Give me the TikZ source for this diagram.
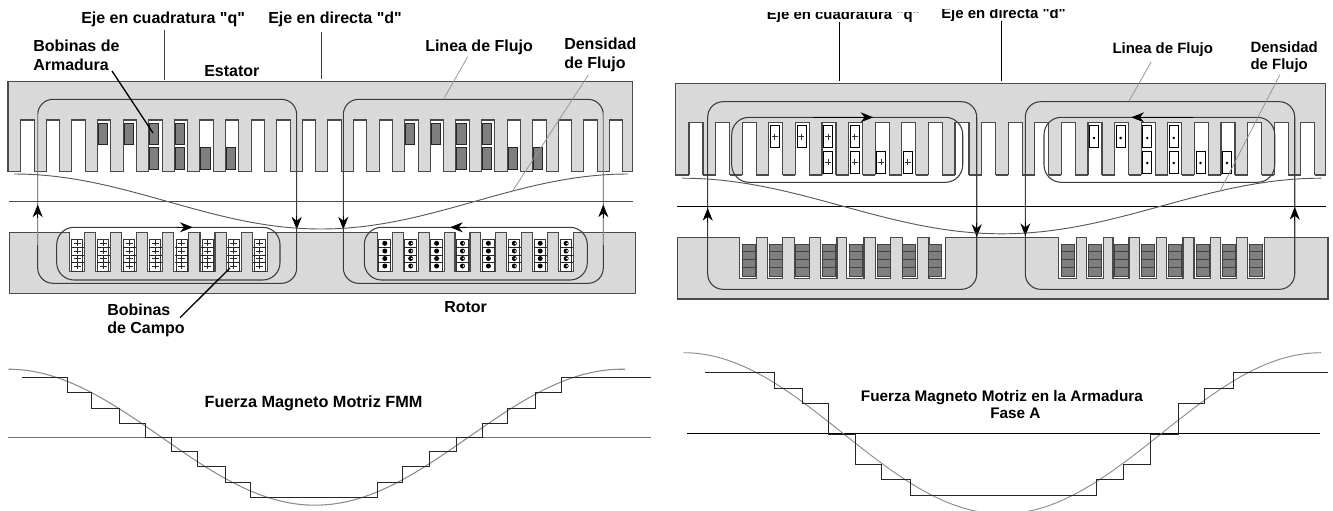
\documentclass[tikz,border=0pt]{standalone}
\usepackage{fontspec}
\setmainfont[Ligatures=TeXOff]{Liberation Sans}
\usetikzlibrary{arrows.meta}
\definecolor{iron}{HTML}{D9D9D9}
\definecolor{edgeg}{HTML}{4A4A4A}
\definecolor{coilg}{HTML}{7F7F7F}
\definecolor{loopg}{HTML}{3C3C3C}
\definecolor{curveg}{HTML}{8A8A8A}
\tikzset{
 lab/.style={anchor=base west,inner sep=0pt,font=\fontsize{12pt}{14pt}\bfseries},
 labm/.style={anchor=base west,inner sep=0pt,font=\fontsize{12.2pt}{14pt}\bfseries},
 labr/.style={anchor=base west,inner sep=0pt,font=\fontsize{11.2pt}{13pt}\bfseries},
 labn/.style={anchor=base west,inner sep=0pt,font=\fontsize{11.5pt}{13pt}\bfseries},
 iron body/.style={fill=iron,draw=edgeg,line width=.8pt},
 slotw/.style={fill=white},
 slotl/.style={draw=edgeg,line width=.8pt},
 loopline/.style={draw=loopg,line width=.8pt,rounded corners=11.5pt},
 faded/.style={draw=curveg,line width=.9pt},
 fluxtip/.style={draw=black,line width=.8pt,-{Stealth[length=9.5pt,width=7.5pt,inset=3pt]}},
 heavylead/.style={draw=black,line width=1pt},
 thinlead/.style={draw=gray!85,line width=.55pt},
 axisline/.style={draw=black!75,line width=.7pt},
 gapline/.style={draw=black!70,line width=.75pt},
 steps/.style={draw=black!85,line width=.7pt},
 wave/.style={draw=black!45,line width=.8pt},
 coilk/.style={fill=coilg,draw=black!85,line width=.7pt},
 coilw/.style={fill=white,draw=black,line width=.6pt},
}
\begin{document}
\begin{tikzpicture}[x=.75pt,y=-.75pt]
\useasboundingbox (0,0) rectangle (1333,510);
\clip (0,0) rectangle (1333,510);
\fill[white] (0,0) rectangle (1333,510);

%% ===== left stator =====
\path[iron body] (8,81.7) rectangle (632.7,171.5);
\foreach \k in {0,...,23}{
  \pgfmathsetmacro\sx{20.7+25.6*\k}
  \fill[slotw] (\sx,120) rectangle (\sx+13.4,173);
  \draw[slotl] (\sx,171.5) -- (\sx,120) -- (\sx+13.4,120) -- (\sx+13.4,171.5);
}
\foreach \k in {3,4,5,6,15,16,17,18}{
  \pgfmathsetmacro\sx{21.7+25.6*\k}
  \path[coilk] (\sx,123) rectangle (\sx+9.2,144.5);
}
\foreach \k in {5,6,7,8,17,18,19,20}{
  \pgfmathsetmacro\sx{21.7+25.6*\k}
  \path[coilk] (\sx,147.5) rectangle (\sx+9.2,169.8);
}
%% ===== left rotor =====
\path[iron body] (9.3,232.3) rectangle (635.7,293.3);
\foreach \k in {0,...,7}{
  \pgfmathsetmacro\sx{69.5+26.1*\k}
  \fill[slotw] (\sx,231) rectangle (\sx+15,271.7);
  \draw[slotl] (\sx,232.3) -- (\sx,271.7) -- (\sx+15,271.7) -- (\sx+15,232.3);
  \draw[black!80,line width=.6pt] (\sx+2,239) rectangle (\sx+13,271);
  \foreach \yy in {247.5,255,262.7}{\draw[black!85,line width=.5pt] (\sx+1,\yy) -- (\sx+14,\yy);}
  \foreach \yy in {243.3,251,258.5,266}{
    \draw[black!85,line width=.5pt] (\sx+4,\yy) -- (\sx+11,\yy) (\sx+7.5,\yy-3) -- (\sx+7.5,\yy+3);}
}
\foreach \k in {0,...,7}{
  \pgfmathsetmacro\sx{377.3+25.9*\k}
  \pgfmathtruncatemacro\odd{mod(\k,2)}
  \fill[slotw] (\sx,231) rectangle (\sx+15,271.7);
  \draw[slotl] (\sx,232.3) -- (\sx,271.7) -- (\sx+15,271.7) -- (\sx+15,232.3);
  \draw[black!80,line width=.6pt] (\sx+1.5,239) rectangle (\sx+13,271);
  \foreach \yy in {247.5,255,262.7}{\draw[black!85,line width=.5pt] (\sx+1,\yy) -- (\sx+14,\yy);}
  \foreach \yy in {243.3,251,258.5,266}{
    \fill[black] (\sx+7.5,\yy) circle[radius=2.5];
    \ifnum\odd=1 \fill[white] (\sx+8.5,\yy) circle[radius=.9]; \fi
  }
}
%% ===== left flux lines =====
\draw[loopline] (37.7,99.3) rectangle (296.7,283.3);
\draw[loopline] (343.3,99.3) rectangle (603.3,283.3);
\draw[faded] (37.7,112) -- (37.7,245);
\draw[faded] (603.3,112) -- (603.3,245);
\draw[loopline,rounded corners=13pt] (56.7,227.3) rectangle (280,280);
\draw[loopline,rounded corners=13pt] (364.3,227.3) rectangle (587.3,280);
\coordinate (la1) at (37.7,218); \coordinate (la1t) at (37.7,204.5);
\coordinate (la2) at (296.7,216); \coordinate (la2t) at (296.7,229.5);
\coordinate (la3) at (343.3,216); \coordinate (la3t) at (343.3,229.5);
\coordinate (la4) at (603.3,218); \coordinate (la4t) at (603.3,204.5);
\coordinate (la5) at (176.7,227.3); \coordinate (la5t) at (192.7,227.3);
\coordinate (la6) at (466,227.3); \coordinate (la6t) at (450,227.3);
\foreach \p in {1,...,6}{\draw[fluxtip] (la\p) -- (la\p t);}
%% gap and density
\draw[gapline] (9,201.7) -- (632.7,201.7);
\draw[black!65,line width=.7pt,domain=14:628,samples=90,smooth] plot (\x,{201.5-27.5*cos((\x-14)/307*180)});
%% left labels
\node[lab] (qL) at (81,24) {Eje en cuadratura "q"};
\node[lab] (dL) at (268,24) {Eje en directa "d"};
\node[lab] (bobA1) at (33,51.7) {Bobinas de};
\node[lab] (bobA2) at (33,70) {Armadura};
\node[lab] (estL) at (204,76) {Estator};
\node[lab] (linL) at (425,51.7) {Linea de Flujo};
\node[lab] (denL1) at (564,49.3) {Densidad};
\node[lab] (denL2) at (564,68.3) {de Flujo};
\node[lab] (bobC1) at (107,315) {Bobinas};
\node[lab] (bobC2) at (107,333) {de Campo};
\node[lab] (rotL) at (444,312.7) {Rotor};
\coordinate (qLa) at (164.3,30); \coordinate (qLb) at (164.3,80);
\coordinate (dLa) at (321,32); \coordinate (dLb) at (321,79);
\draw[axisline] (qLa) -- (qLb);
\draw[axisline] (dLa) -- (dLb);
\coordinate (armS) at (112,71); \coordinate (armE) at (153,133);
\draw[heavylead] (armS) -- (armE);
\coordinate (camS) at (180,317.7); \coordinate (camE) at (230,268);
\draw[heavylead] (camS) -- (camE);
\coordinate (linS) at (467.7,56.7); \coordinate (linE) at (444,98.3);
\draw[thinlead] (linS) -- (linE);
\coordinate (denS) at (588.3,75); \coordinate (denE) at (511.7,192.3);
\draw[thinlead] (denS) -- (denE);

%% ===== left MMF =====
\draw[gapline,draw=black!55,line width=1pt] (8,437.7) -- (651,437.7);
\draw[wave,domain=8.5:625,samples=90,smooth] plot (\x,{437.2-68*cos((\x-8)/307*180)});
\draw[steps] (22,377.3) -| (67,392.7) -| (91.5,408.3) -| (119,423.3) -| (145.6,437.7) -| (171,451) -| (197,466.7) -| (225,482) -| (250,497.3) -| (377,482) -| (402,466.7) -| (429,451) -| (456.5,437.7) -| (482,423.3) -| (507.7,408.3) -| (535,392.7) -| (561,377.3) -- (651,377.3);
\node[labm] (fmmL) at (204.4,407.7) {Fuerza Magneto Motriz FMM};

%% ===== right stator =====
\path[iron body] (675.7,83.3) rectangle (1325.3,175);
\foreach \k in {0,...,23}{
  \pgfmathsetmacro\sx{689+26.6*\k}
  \fill[slotw] (\sx,122.3) rectangle (\sx+14,176.5);
  \draw[slotl] (\sx,175) -- (\sx,122.3) -- (\sx+14,122.3) -- (\sx+14,175);
}
\foreach \k in {3,4,5,6}{
  \pgfmathsetmacro\sx{690.5+26.6*\k}
  \path[coilw] (\sx,125.3) rectangle (\sx+9,147.7);
  \draw[black!80,line width=.5pt] (\sx+1.5,136.5) -- (\sx+7.5,136.5) (\sx+4.5,133.5) -- (\sx+4.5,139.5);
}
\foreach \k in {5,6,7,8}{
  \pgfmathsetmacro\sx{690.5+26.6*\k}
  \path[coilw] (\sx,151) rectangle (\sx+9,173.3);
  \draw[black!80,line width=.5pt] (\sx+1.5,162) -- (\sx+7.5,162) (\sx+4.5,159) -- (\sx+4.5,165);
}
\foreach \k in {15,16,17,18}{
  \pgfmathsetmacro\sx{690.5+26.6*\k}
  \path[coilw] (\sx,125.3) rectangle (\sx+9,147.7);
  \fill[black] (\sx+4.5,138) circle[radius=1.4];
}
\foreach \k in {17,18,19,20}{
  \pgfmathsetmacro\sx{690.5+26.6*\k}
  \path[coilw] (\sx,151) rectangle (\sx+9,173.3);
  \fill[black] (\sx+4.5,163) circle[radius=1.4];
}
%% ===== right rotor =====
\path[iron body] (677.3,237.3) rectangle (1328,299);
\foreach \sx/\sw/\bx in {739.7/17/742,767.3/15.4/769,794.3/15.4/795.7,820.7/16.3/822,846.7/17.3/849,875.7/15/877,902.7/14.6/902.5,929/16.3/928.5,
  1058.7/17.6/1061.3,1086.3/17/1088.3,1113/16/1114.7,1139.7/16.6/1141.3,1166.3/16.7/1168,1194/16.7/1196.3,1220.7/16/1222.3,1247.3/17.4/1249}{
  \fill[slotw] (\sx,236) rectangle (\sx+\sw,278.3);
  \draw[slotl] (\sx,237.3) -- (\sx,278.3) -- (\sx+\sw,278.3) -- (\sx+\sw,237.3);
  \path[coilk,draw=black!75] (\bx,244) rectangle (\bx+13.3,276.7);
  \foreach \yy in {251.7,259.7,267.7}{\draw[black!75,line width=.6pt] (\bx-.5,\yy) -- (\bx+13.8,\yy);}
}
%% ===== right flux =====
\draw[loopline] (707.7,101.7) rectangle (976.7,289.3);
\draw[loopline] (1025.3,101.7) rectangle (1294.7,289.3);
\draw[loopline,rounded corners=13pt] (731.7,117.3) rectangle (962.7,182.3);
\draw[loopline,rounded corners=13pt] (1044,117.3) rectangle (1274.7,182.3);
\coordinate (ra1) at (707.7,222); \coordinate (ra1t) at (707.7,208);
\coordinate (ra2) at (976.7,223); \coordinate (ra2t) at (976.7,237);
\coordinate (ra3) at (1025.3,222); \coordinate (ra3t) at (1025.3,236);
\coordinate (ra4) at (1294.7,221); \coordinate (ra4t) at (1294.7,207);
\coordinate (ra5) at (813.3,117.3); \coordinate (ra5t) at (873.3,117.3);
\coordinate (ra6) at (1193,117.3); \coordinate (ra6t) at (1131.3,117.3);
\foreach \p in {1,...,6}{\draw[fluxtip] (ra\p) -- (ra\p t);}
\draw[gapline,draw=black] (677.3,206) -- (1325.7,206);
\draw[black!65,line width=.7pt,domain=682.3:1321.3,samples=90,smooth] plot (\x,{206-27.8*cos((\x-682.3)/319.5*180)});
%% right labels
\begin{scope}
\clip (760,12.8) rectangle (925,30);
\node[labr] (qR) at (766.7,20) {Eje en cuadratura "q"};
\end{scope}
\begin{scope}
\clip (935,9.5) rectangle (1075,30);
\node[labr] (dR) at (941,18.3) {Eje en directa "d"};
\end{scope}
\node[labr] (linR) at (1112.3,53.3) {Linea de Flujo};
\node[labr] (denR1) at (1250.3,52.3) {Densidad};
\node[labr] (denR2) at (1250.3,69.3) {de Flujo};
\coordinate (qRa) at (839,21.7); \coordinate (qRb) at (839,81);
\coordinate (dRa) at (1001.3,21); \coordinate (dRb) at (1001.3,81);
\draw[axisline,draw=black] (qRa) -- (qRb);
\draw[axisline,draw=black] (dRa) -- (dRb);
\coordinate (linRS) at (1151.3,61.7); \coordinate (linRE) at (1129,101);
\draw[thinlead] (linRS) -- (linRE);
\coordinate (denRS) at (1279.7,75); \coordinate (denRE) at (1219.7,191.7);
\draw[thinlead] (denRS) -- (denRE);

%% ===== right MMF =====
\draw[gapline,draw=black] (687,433.5) -- (1320,433.5);
\draw[wave,line width=.7pt,domain=683.6:1321,samples=90,smooth] plot (\x,{433.3-80.6*cos((\x-683.6)/318.7*180)});
\draw[steps] (705.3,372.7) -| (774.3,388.3) -| (802.8,403.3) -| (828.7,434.3) -| (855.5,464.3) -| (881.9,479.7) -| (910.9,495.3) -| (1096,479.7) -| (1123.6,464.3) -| (1150.9,434.3) -| (1178.5,403.3) -| (1204.9,388.3) -| (1233,372.7) -- (1327.9,372.7);
\node[labn] (fmmR) at (860.6,401.7) {Fuerza Magneto Motriz en la Armadura};
\node[labn] (faseR) at (990,418.3) {Fase A};
\end{tikzpicture}
\end{document}
